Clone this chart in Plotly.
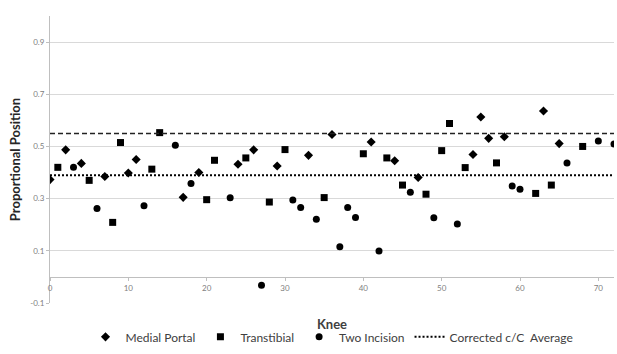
import plotly.graph_objects as go

# Knee index and proportional position for each technique
medial_knee = [0, 2, 4, 7, 10, 11, 17, 19, 24, 26, 29, 33, 36, 41, 44, 47, 54, 55, 56, 58, 63, 65]
medial_pos = [0.373, 0.487, 0.435, 0.385, 0.398, 0.45, 0.305, 0.40, 0.432, 0.487, 0.425, 0.466,
              0.546, 0.517, 0.445, 0.381, 0.469, 0.613, 0.531, 0.537, 0.636, 0.511]

transtibial_knee = [1, 5, 8, 9, 13, 14, 20, 21, 25, 28, 30, 35, 40, 43, 45, 48, 50, 51, 53, 57, 62, 64, 68]
transtibial_pos = [0.42, 0.37, 0.209, 0.515, 0.413, 0.553, 0.296, 0.447, 0.456, 0.287, 0.488, 0.304,
                   0.472, 0.456, 0.352, 0.317, 0.484, 0.588, 0.419, 0.437, 0.32, 0.352, 0.50]

two_incision_knee = [3, 6, 12, 16, 18, 23, 27, 31, 32, 34, 37, 38, 39, 42, 46, 49, 52, 59, 60, 66, 70, 72]
two_incision_pos = [0.42, 0.262, 0.273, 0.505, 0.358, 0.303, -0.032, 0.295, 0.266, 0.221, 0.116, 0.266,
                    0.228, 0.099, 0.324, 0.227, 0.203, 0.348, 0.336, 0.437, 0.521, 0.509]

# Reference averages spanning the knee range
avg_span = [0, 72]
corrected_avg = 0.39
upper_avg = 0.55

y_ticks = [-0.1, 0.1, 0.3, 0.5, 0.7, 0.9]
x_ticks = [0, 10, 20, 30, 40, 50, 60, 70]

FONT = "Lato, 'Open Sans', sans-serif"
BLACK = "#000000"

fig = go.Figure()

fig.add_trace(go.Scatter(
    x=medial_knee, y=medial_pos, mode="markers", name="Medial Portal",
    marker=dict(symbol="diamond", size=7, color=BLACK),
))
fig.add_trace(go.Scatter(
    x=transtibial_knee, y=transtibial_pos, mode="markers", name="Transtibial",
    marker=dict(symbol="square", size=7, color=BLACK),
))
fig.add_trace(go.Scatter(
    x=two_incision_knee, y=two_incision_pos, mode="markers", name="Two Incision",
    marker=dict(symbol="circle", size=7, color=BLACK),
))
fig.add_trace(go.Scatter(
    x=avg_span, y=[corrected_avg] * len(avg_span), mode="lines",
    name="Corrected c/C  Average",
    line=dict(color=BLACK, width=2, dash="2px,2px"),
))
fig.add_trace(go.Scatter(
    x=avg_span, y=[upper_avg] * len(avg_span), mode="lines",
    name="Average", showlegend=False,
    line=dict(color="#222222", width=1.5, dash="5px,3px"),
))

fig.update_layout(
    width=617, height=354,
    margin=dict(l=50, r=3, t=16, b=41),
    paper_bgcolor="white", plot_bgcolor="white",
    font=dict(family=FONT, color="#404040"),
    showlegend=True,
    legend=dict(
        orientation="h", x=0.5, xanchor="center", y=-0.118, yanchor="middle",
        font=dict(size=12, color="#404040", family=FONT),
        bgcolor="rgba(0,0,0,0)",
    ),
)

fig.update_xaxes(
    range=[0, 72], tickvals=x_ticks,
    anchor="free", position=0.1 / 1.1,
    showline=True, linecolor="#bfbfbf", linewidth=1,
    ticks="outside", ticklen=3, tickcolor="#bfbfbf",
    showgrid=False, zeroline=False,
    tickfont=dict(size=8, color="#808080", family=FONT),
    title=dict(text="<b>Knee</b>", font=dict(size=13, color="#404040", family=FONT), standoff=28),
)

fig.update_yaxes(
    range=[-0.1, 1.0], tickvals=y_ticks, ticktext=[f"{v:g}" for v in y_ticks],
    showline=True, linecolor="#bfbfbf", linewidth=1,
    ticks="outside", ticklen=3, tickcolor="#bfbfbf",
    showgrid=True, gridcolor="#d9d9d9", gridwidth=1,
    zeroline=False,
    tickfont=dict(size=8, color="#808080", family=FONT),
    title=dict(text="<b>Proportional Position</b>", font=dict(size=13, color="#262626", family=FONT), standoff=6),
)

fig.write_html("out.html")
